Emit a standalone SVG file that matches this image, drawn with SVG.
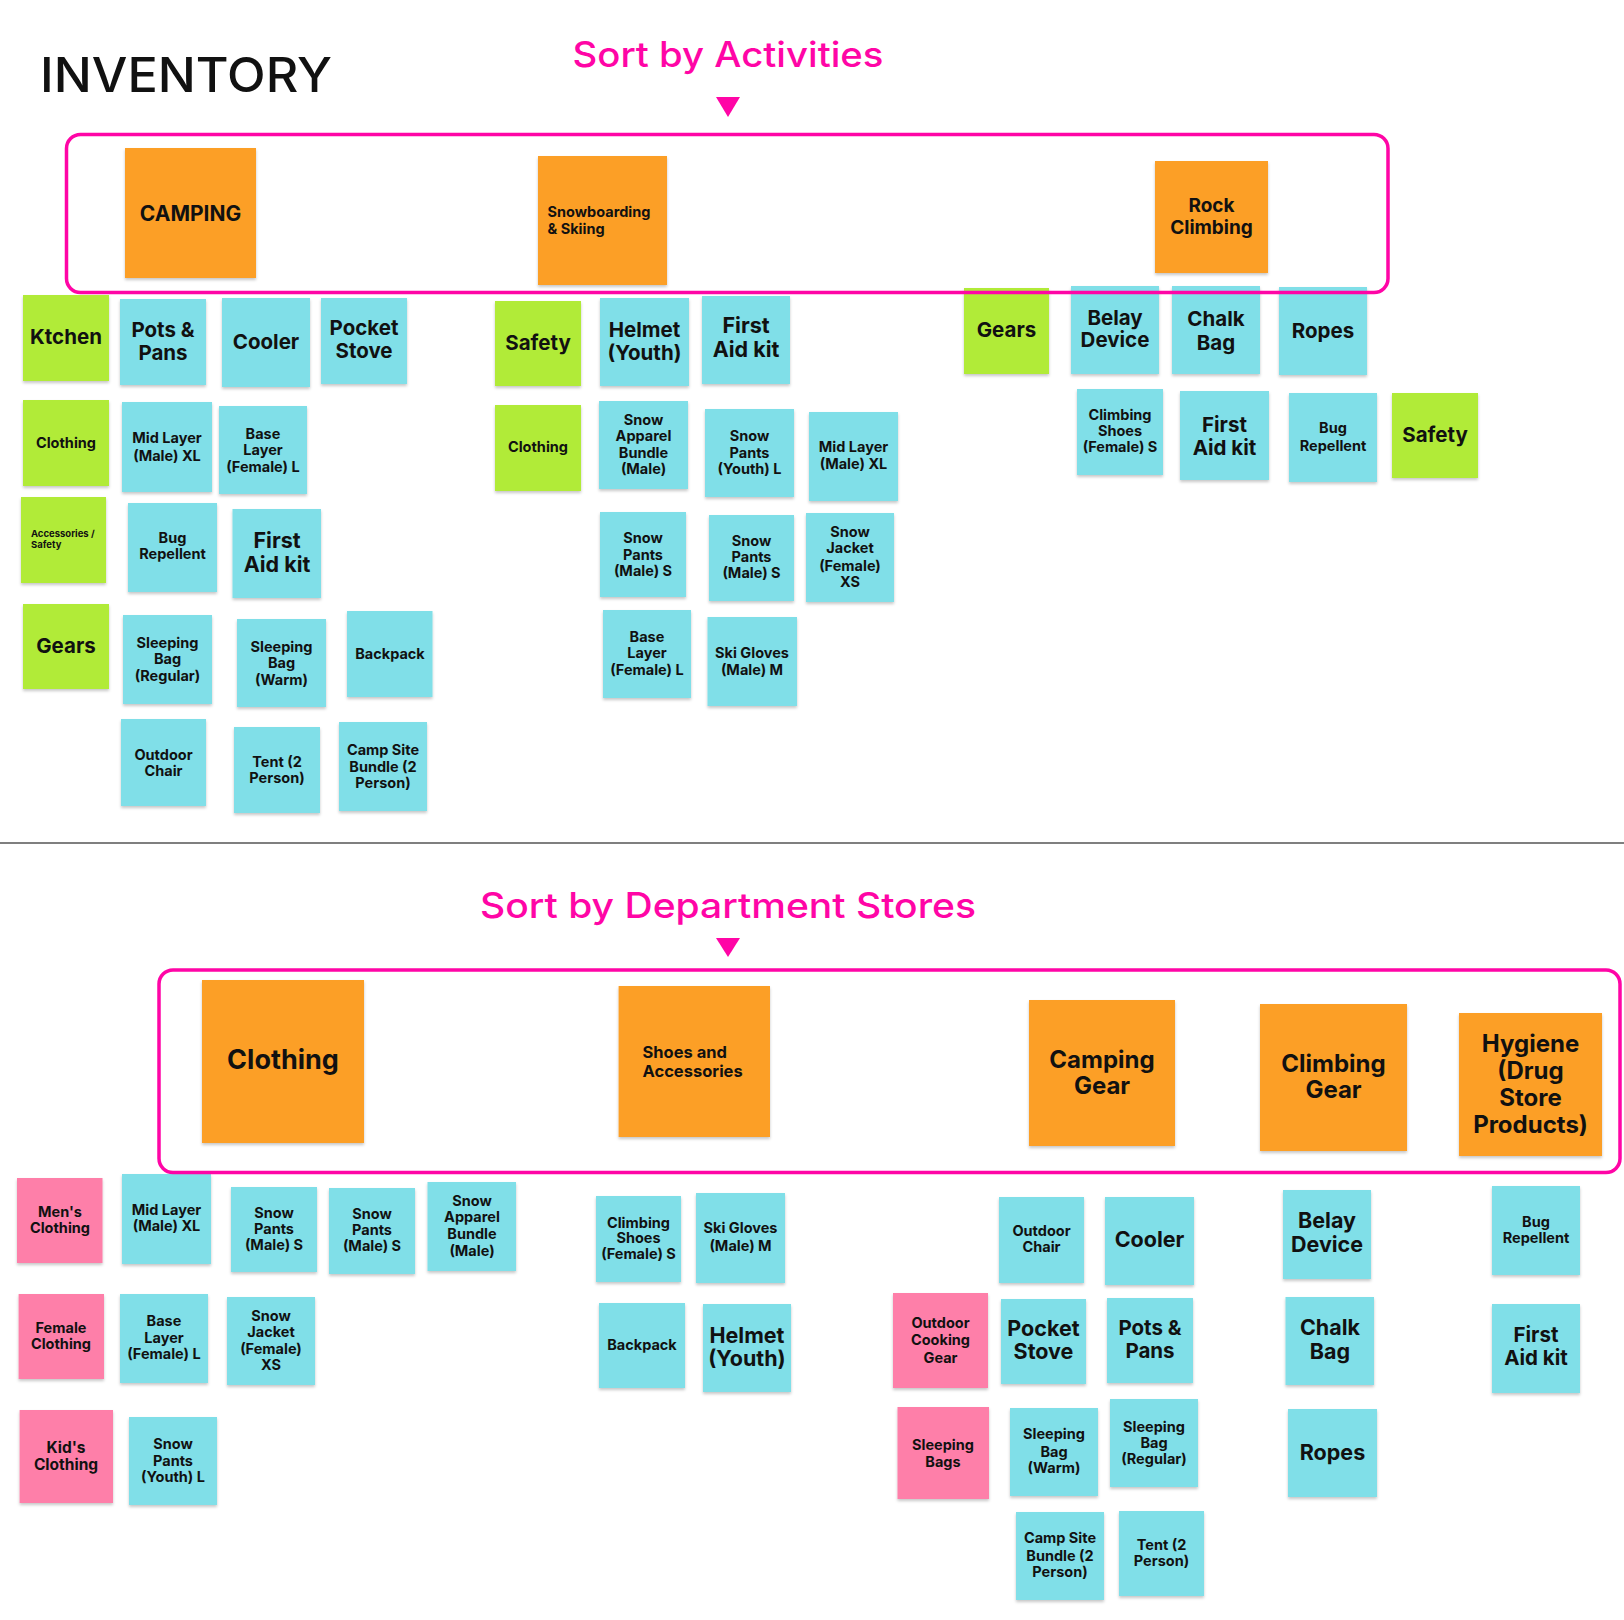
<svg xmlns="http://www.w3.org/2000/svg" width="1624" height="1620" viewBox="0 0 1624 1620">
<style>
.o{fill:#FC9F25}.g{fill:#B1EB37}.c{fill:#80DFE8}.p{fill:#FE7FA9}
rect.o,rect.g,rect.c,rect.p{filter:url(#sh)}
text{font-family:Inter,"Noto Sans","Liberation Sans",sans-serif;font-weight:700;fill:#111;text-anchor:middle}
.s{font-size:14.5px}.m{font-size:20.5px}.l{font-size:21.5px}.xs{font-size:9.5px}
.lf{text-anchor:start}
.box{fill:none;stroke:#FF05A6;stroke-width:3.5}
.ttl{font-weight:500;text-anchor:start}
.pk{fill:#FF05A6}
</style>
<defs>
<filter id="sh" x="-10%" y="-10%" width="120%" height="125%"><feDropShadow dx="0" dy="2" stdDeviation="1.4" flood-color="#000" flood-opacity="0.22"/></filter>
</defs>
<rect width="1624" height="1620" fill="#fff"/>
<text class="ttl" x="40" y="92" font-size="48" textLength="292" lengthAdjust="spacingAndGlyphs">INVENTORY</text>
<text class="ttl pk" x="572.5" y="67" font-size="35" textLength="311" lengthAdjust="spacingAndGlyphs">Sort by Activities</text>
<text class="ttl pk" x="480" y="918" font-size="35" textLength="496" lengthAdjust="spacingAndGlyphs">Sort by Department Stores</text>
<line x1="0" y1="843" x2="1624" y2="843" stroke="#555" stroke-width="1.5"/>

<g id="camping"><rect class="o" x="125" y="148" width="131" height="130"/><text x="190.5" y="221" font-size="21">CAMPING</text></g>
<g id="snowboarding"><rect class="o" x="538" y="156" width="129" height="129"/><text class="s lf" x="547.5" y="217">Snowboarding</text><text class="s lf" x="547.5" y="234">&amp; Skiing</text></g>
<g id="rock-climbing"><rect class="o" x="1155" y="161" width="113" height="112"/><text x="1211.5" y="212" font-size="19">Rock</text><text x="1211.5" y="234" font-size="19">Climbing</text></g>

<g id="ktchen"><rect class="g" x="23" y="295" width="86" height="86"/><text class="m" x="66" y="344">Ktchen</text></g>
<g id="pots-pans"><rect class="c" x="120" y="299" width="86" height="86"/><text class="m" x="163" y="337">Pots &amp;</text><text class="m" x="163" y="360">Pans</text></g>
<g id="cooler"><rect class="c" x="222" y="298" width="88" height="89"/><text class="m" x="266" y="349">Cooler</text></g>
<g id="pocket-stove"><rect class="c" x="321" y="298" width="86" height="86"/><text class="m" x="364" y="335">Pocket</text><text class="m" x="364" y="358">Stove</text></g>
<g id="clothing-camp"><rect class="g" x="23" y="400" width="86" height="86"/><text class="s" x="66" y="448">Clothing</text></g>
<g id="mid-layer-camp"><rect class="c" x="122" y="402" width="90" height="90"/><text class="s" x="167" y="443">Mid Layer</text><text class="s" x="167" y="461">(Male) XL</text></g>
<g id="base-layer-camp"><rect class="c" x="219" y="406" width="88" height="88"/><text class="s" x="263" y="439">Base</text><text class="s" x="263" y="455">Layer</text><text class="s" x="263" y="472">(Female) L</text></g>
<g id="accessories-camp"><rect class="g" x="21" y="497" width="85" height="86"/><text class="xs lf" x="31" y="537">Accessories /</text><text class="xs lf" x="31" y="548">Safety</text></g>
<g id="bug-camp"><rect class="c" x="128" y="503" width="89" height="89"/><text class="s" x="172.5" y="543">Bug</text><text class="s" x="172.5" y="559">Repellent</text></g>
<g id="firstaid-camp"><rect class="c" x="232.5" y="509" width="88.5" height="89"/><text class="l" x="277" y="548">First</text><text class="l" x="277" y="572">Aid kit</text></g>
<g id="gears-camp"><rect class="g" x="23" y="604" width="86" height="85"/><text class="m" x="66" y="653">Gears</text></g>
<g id="sleep-reg-camp"><rect class="c" x="123" y="615" width="89" height="89"/><text class="s" x="167.5" y="648">Sleeping</text><text class="s" x="167.5" y="664">Bag</text><text class="s" x="167.5" y="681">(Regular)</text></g>
<g id="sleep-warm-camp"><rect class="c" x="237" y="619" width="89" height="88"/><text class="s" x="281.5" y="652">Sleeping</text><text class="s" x="281.5" y="668">Bag</text><text class="s" x="281.5" y="685">(Warm)</text></g>
<g id="backpack-camp"><rect class="c" x="347" y="611" width="85.5" height="86"/><text class="s" x="390" y="659">Backpack</text></g>
<g id="chair-camp"><rect class="c" x="121" y="719" width="85" height="87"/><text class="s" x="163.5" y="760">Outdoor</text><text class="s" x="163.5" y="776">Chair</text></g>
<g id="tent-camp"><rect class="c" x="234" y="727" width="86" height="86"/><text class="s" x="277" y="767">Tent (2</text><text class="s" x="277" y="783">Person)</text></g>
<g id="campsite-camp"><rect class="c" x="339" y="722" width="88" height="89"/><text class="s" x="383" y="755">Camp Site</text><text class="s" x="383" y="772">Bundle (2</text><text class="s" x="383" y="788">Person)</text></g>

<g id="safety-snow"><rect class="g" x="495" y="301" width="86" height="85"/><text class="m" x="538" y="350">Safety</text></g>
<g id="helmet-snow"><rect class="c" x="600" y="298" width="89" height="88"/><text class="m" x="644.5" y="337">Helmet</text><text class="m" x="644.5" y="360">(Youth)</text></g>
<g id="firstaid-snow"><rect class="c" x="702" y="296" width="88" height="88"/><text class="l" x="746" y="333">First</text><text class="l" x="746" y="357">Aid kit</text></g>
<g id="clothing-snow"><rect class="g" x="495" y="405" width="86" height="86"/><text class="s" x="538" y="452">Clothing</text></g>
<g id="snow-apparel"><rect class="c" x="599" y="401" width="89" height="88"/><text class="s" x="643.5" y="425">Snow</text><text class="s" x="643.5" y="441">Apparel</text><text class="s" x="643.5" y="458">Bundle</text><text class="s" x="643.5" y="474">(Male)</text></g>
<g id="snow-pants-youth"><rect class="c" x="705" y="409" width="89" height="88"/><text class="s" x="749.5" y="441">Snow</text><text class="s" x="749.5" y="458">Pants</text><text class="s" x="749.5" y="474">(Youth) L</text></g>
<g id="mid-layer-snow"><rect class="c" x="809" y="412" width="89" height="89"/><text class="s" x="853.5" y="452">Mid Layer</text><text class="s" x="853.5" y="469">(Male) XL</text></g>
<g id="snow-pants-male1"><rect class="c" x="600" y="512" width="86" height="85"/><text class="s" x="643" y="543">Snow</text><text class="s" x="643" y="560">Pants</text><text class="s" x="643" y="576">(Male) S</text></g>
<g id="snow-pants-male2"><rect class="c" x="709" y="515" width="85" height="86"/><text class="s" x="751.5" y="546">Snow</text><text class="s" x="751.5" y="562">Pants</text><text class="s" x="751.5" y="578">(Male) S</text></g>
<g id="snow-jacket"><rect class="c" x="806" y="513" width="88" height="89"/><text class="s" x="850" y="537">Snow</text><text class="s" x="850" y="553">Jacket</text><text class="s" x="850" y="571">(Female)</text><text class="s" x="850" y="587">XS</text></g>
<g id="base-layer-snow"><rect class="c" x="603" y="610" width="88" height="88"/><text class="s" x="647" y="642">Base</text><text class="s" x="647" y="658">Layer</text><text class="s" x="647" y="675">(Female) L</text></g>
<g id="ski-gloves"><rect class="c" x="707.5" y="617" width="89.5" height="89"/><text class="s" x="752" y="658">Ski Gloves</text><text class="s" x="752" y="675">(Male) M</text></g>

<g id="gears-rock"><rect class="g" x="964" y="288" width="85" height="86"/><text class="m" x="1006.5" y="337">Gears</text></g>
<g id="belay-rock"><rect class="c" x="1071" y="286" width="88" height="88"/><text class="m" x="1115" y="325">Belay</text><text class="m" x="1115" y="347">Device</text></g>
<g id="chalk-rock"><rect class="c" x="1172" y="286" width="88" height="88"/><text class="m" x="1216" y="326">Chalk</text><text class="m" x="1216" y="350">Bag</text></g>
<g id="ropes-rock"><rect class="c" x="1279" y="287" width="88" height="88"/><text class="m" x="1323" y="338">Ropes</text></g>
<g id="climb-shoes-rock"><rect class="c" x="1077" y="389" width="86" height="86"/><text class="s" x="1120" y="420">Climbing</text><text class="s" x="1120" y="436">Shoes</text><text class="s" x="1120" y="452">(Female) S</text></g>
<g id="firstaid-rock"><rect class="c" x="1180" y="391" width="89" height="89"/><text class="m" x="1224.5" y="432">First</text><text class="m" x="1224.5" y="455">Aid kit</text></g>
<g id="bug-rock"><rect class="c" x="1289" y="393" width="88" height="89"/><text class="s" x="1333" y="433">Bug</text><text class="s" x="1333" y="451">Repellent</text></g>
<g id="safety-rock"><rect class="g" x="1392" y="393" width="86" height="85"/><text class="m" x="1435" y="442">Safety</text></g>

<g id="dept-clothing"><rect class="o" x="202" y="980" width="162" height="163"/><text x="283" y="1069" font-size="27">Clothing</text></g>
<g id="dept-shoes"><rect class="o" x="618.6" y="986" width="151.4" height="151"/><text class="lf" x="642.5" y="1058" font-size="16.5">Shoes and</text><text class="lf" x="642.5" y="1077" font-size="16.5">Accessories</text></g>
<g id="dept-camping"><rect class="o" x="1029" y="1000" width="146" height="146"/><text x="1102" y="1068" font-size="24">Camping</text><text x="1102" y="1094" font-size="24">Gear</text></g>
<g id="dept-climbing"><rect class="o" x="1260" y="1004" width="147" height="147"/><text x="1333.5" y="1072" font-size="24">Climbing</text><text x="1333.5" y="1098" font-size="24">Gear</text></g>
<g id="dept-hygiene"><rect class="o" x="1459" y="1013" width="143" height="143"/><text x="1530.5" y="1052" font-size="24">Hygiene</text><text x="1530.5" y="1079" font-size="24">(Drug</text><text x="1530.5" y="1106" font-size="24">Store</text><text x="1530.5" y="1133" font-size="24">Products)</text></g>

<g id="mens-clothing"><rect class="p" x="17" y="1178" width="85.5" height="85"/><text class="s" x="60" y="1217">Men's</text><text class="s" x="60" y="1233">Clothing</text></g>
<g id="mid-layer-dept"><rect class="c" x="122" y="1174" width="89" height="90"/><text class="s" x="166.5" y="1215">Mid Layer</text><text class="s" x="166.5" y="1231">(Male) XL</text></g>
<g id="snow-pants-male3"><rect class="c" x="231" y="1187" width="86" height="85"/><text class="s" x="274" y="1218">Snow</text><text class="s" x="274" y="1234">Pants</text><text class="s" x="274" y="1250">(Male) S</text></g>
<g id="snow-pants-male4"><rect class="c" x="329" y="1188" width="86" height="86"/><text class="s" x="372" y="1219">Snow</text><text class="s" x="372" y="1235">Pants</text><text class="s" x="372" y="1251">(Male) S</text></g>
<g id="snow-apparel-dept"><rect class="c" x="427.5" y="1182" width="88.5" height="89"/><text class="s" x="472" y="1206">Snow</text><text class="s" x="472" y="1222">Apparel</text><text class="s" x="472" y="1239">Bundle</text><text class="s" x="472" y="1256">(Male)</text></g>
<g id="female-clothing"><rect class="p" x="18.6" y="1294" width="85.4" height="85"/><text class="s" x="61" y="1333">Female</text><text class="s" x="61" y="1349">Clothing</text></g>
<g id="base-layer-dept"><rect class="c" x="120" y="1294" width="88" height="89"/><text class="s" x="164" y="1326">Base</text><text class="s" x="164" y="1343">Layer</text><text class="s" x="164" y="1359">(Female) L</text></g>
<g id="snow-jacket-dept"><rect class="c" x="227" y="1297" width="88" height="88"/><text class="s" x="271" y="1321">Snow</text><text class="s" x="271" y="1337">Jacket</text><text class="s" x="271" y="1354">(Female)</text><text class="s" x="271" y="1370">XS</text></g>
<g id="kids-clothing"><rect class="p" x="19.6" y="1410" width="93.4" height="93"/><text x="66" y="1453" font-size="15.5">Kid's</text><text x="66" y="1470" font-size="15.5">Clothing</text></g>
<g id="snow-pants-youth-dept"><rect class="c" x="129" y="1417" width="88" height="88"/><text class="s" x="173" y="1449">Snow</text><text class="s" x="173" y="1466">Pants</text><text class="s" x="173" y="1482">(Youth) L</text></g>

<g id="climb-shoes-dept"><rect class="c" x="596" y="1196" width="85" height="86"/><text class="s" x="638.5" y="1228">Climbing</text><text class="s" x="638.5" y="1243">Shoes</text><text class="s" x="638.5" y="1259">(Female) S</text></g>
<g id="ski-gloves-dept"><rect class="c" x="696" y="1193" width="89" height="90"/><text class="s" x="740.5" y="1233">Ski Gloves</text><text class="s" x="740.5" y="1251">(Male) M</text></g>
<g id="backpack-dept"><rect class="c" x="599" y="1303" width="86" height="85"/><text class="s" x="642" y="1350">Backpack</text></g>
<g id="helmet-dept"><rect class="c" x="703" y="1304" width="88" height="88"/><text class="l" x="747" y="1343">Helmet</text><text class="l" x="747" y="1366">(Youth)</text></g>

<g id="chair-dept"><rect class="c" x="999" y="1197" width="85" height="86"/><text class="s" x="1041.5" y="1236">Outdoor</text><text class="s" x="1041.5" y="1252">Chair</text></g>
<g id="cooler-dept"><rect class="c" x="1105" y="1197" width="89" height="88"/><text class="l" x="1149.5" y="1247">Cooler</text></g>
<g id="outdoor-cooking"><rect class="p" x="893" y="1293" width="95" height="95"/><text class="s" x="940.5" y="1328">Outdoor</text><text class="s" x="940.5" y="1345">Cooking</text><text class="s" x="940.5" y="1363">Gear</text></g>
<g id="pocket-stove-dept"><rect class="c" x="1001" y="1299" width="85" height="85"/><text class="l" x="1043.5" y="1336">Pocket</text><text class="l" x="1043.5" y="1359">Stove</text></g>
<g id="pots-dept"><rect class="c" x="1107" y="1298" width="86" height="85"/><text class="m" x="1150" y="1335">Pots &amp;</text><text class="m" x="1150" y="1358">Pans</text></g>
<g id="sleeping-bags"><rect class="p" x="897.5" y="1407" width="91.5" height="92"/><text class="s" x="943" y="1450">Sleeping</text><text class="s" x="943" y="1467">Bags</text></g>
<g id="sleep-warm-dept"><rect class="c" x="1010" y="1408" width="88" height="88"/><text class="s" x="1054" y="1439">Sleeping</text><text class="s" x="1054" y="1457">Bag</text><text class="s" x="1054" y="1473">(Warm)</text></g>
<g id="sleep-reg-dept"><rect class="c" x="1110" y="1399" width="88" height="88"/><text class="s" x="1154" y="1432">Sleeping</text><text class="s" x="1154" y="1448">Bag</text><text class="s" x="1154" y="1464">(Regular)</text></g>
<g id="campsite-dept"><rect class="c" x="1016" y="1512" width="88" height="88"/><text class="s" x="1060" y="1543">Camp Site</text><text class="s" x="1060" y="1561">Bundle (2</text><text class="s" x="1060" y="1577">Person)</text></g>
<g id="tent-dept"><rect class="c" x="1119" y="1511" width="85" height="85"/><text class="s" x="1161.5" y="1550">Tent (2</text><text class="s" x="1161.5" y="1566">Person)</text></g>

<g id="belay-dept"><rect class="c" x="1283" y="1190" width="88" height="89"/><text class="l" x="1327" y="1228">Belay</text><text class="l" x="1327" y="1252">Device</text></g>
<g id="chalk-dept"><rect class="c" x="1285.5" y="1297" width="88.5" height="88"/><text class="l" x="1330" y="1335">Chalk</text><text class="l" x="1330" y="1359">Bag</text></g>
<g id="ropes-dept"><rect class="c" x="1288" y="1409" width="89" height="88"/><text class="l" x="1332.5" y="1460">Ropes</text></g>
<g id="bug-dept"><rect class="c" x="1492" y="1186" width="88" height="89"/><text class="s" x="1536" y="1227">Bug</text><text class="s" x="1536" y="1243">Repellent</text></g>
<g id="firstaid-dept"><rect class="c" x="1492" y="1304" width="88" height="89"/><text class="m" x="1536" y="1342">First</text><text class="m" x="1536" y="1365">Aid kit</text></g>

<g id="connectors">
<rect class="box" x="66.5" y="134.5" width="1321.5" height="158" rx="14"/>
<rect class="box" x="159" y="970" width="1461" height="202.5" rx="14"/>
<polygon class="pk" points="716,97 740,97 728,117"/>
<polygon class="pk" points="716,938 740,938 728,957"/>
</g>
</svg>
